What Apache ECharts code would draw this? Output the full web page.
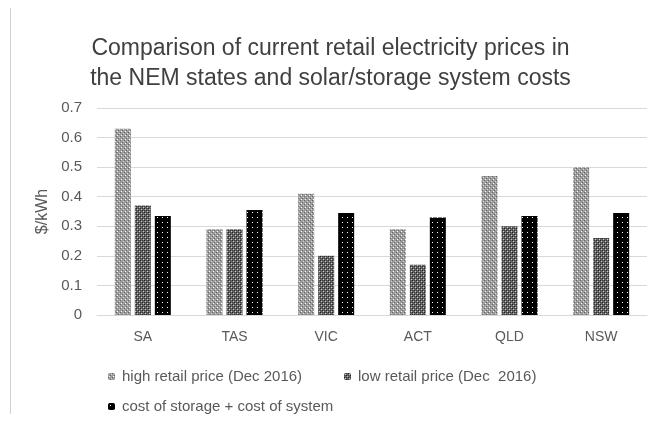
<!DOCTYPE html>
<html><head><meta charset="utf-8">
<script src="https://cdn.jsdelivr.net/npm/echarts@6/dist/echarts.min.js"></script>
<style>html,body{margin:0;padding:0;background:#fff}#c{width:661px;height:424px}</style>
</head><body><div id="c"></div>
<script>
const categories = ['SA', 'TAS', 'VIC', 'ACT', 'QLD', 'NSW'];
const highRetail = [0.63, 0.29, 0.41, 0.29, 0.47, 0.50];
const lowRetail = [0.37, 0.29, 0.20, 0.17, 0.30, 0.26];
const storageCost = [0.335, 0.355, 0.345, 0.33, 0.335, 0.345];
const seriesNames = ['high retail price (Dec 2016)', 'low retail price (Dec  2016)', 'cost of storage + cost of system'];
const yTicks = [0, 0.1, 0.2, 0.3, 0.4, 0.5, 0.6, 0.7];

function makePattern(size, bg, dots) {
  const c = document.createElement('canvas');
  c.width = size; c.height = size;
  const g = c.getContext('2d');
  g.fillStyle = bg; g.fillRect(0, 0, size, size);
  dots.forEach(d => { g.fillStyle = d[2]; g.fillRect(d[0], d[1], 1, 1); });
  return { image: c, repeat: 'repeat' };
}
const patHigh = makePattern(4, '#9c9c9c', [[0,0,'#666'],[2,2,'#666'],[1,3,'#ffffff'],[3,1,'#d8d8d8']]);
const patLow = makePattern(4, '#666', [[0,0,'#222'],[2,2,'#222'],[1,1,'#c8c8c8'],[3,3,'#c8c8c8'],[0,2,'#3c3c3c'],[2,0,'#3c3c3c']]);
const patCost = makePattern(5, '#000000', [[2,2,'#ffffff']]);

const chart = echarts.init(document.getElementById('c'), null, {renderer: 'canvas'});
const font = 'Liberation Sans';
const legendText = { fontFamily: font, fontSize: 15, color: '#595959', padding: [0, 0, 0, 2] };
chart.setOption({
  backgroundColor: '#fff',
  animation: false,
  title: {
    text: 'Comparison of current retail electricity prices in\nthe NEM states and solar/storage system costs',
    left: 'center', top: 29, padding: [5, 15, 5, 5],
    textStyle: { fontFamily: font, fontSize: 23, fontWeight: 'normal', color: '#404040', lineHeight: 30 }
  },
  graphic: [{ type: 'line', shape: { x1: 10.5, y1: 8, x2: 10.5, y2: 414 }, style: { stroke: '#d0d0d0', lineWidth: 1 } }],
  grid: { left: 97, right: 14, top: 108, bottom: 109 },
  legend: [
    { data: [seriesNames[0]], left: 103, top: 364, itemWidth: 7, itemHeight: 7, itemGap: 0, textStyle: legendText },
    { data: [seriesNames[1]], left: 339, top: 364, itemWidth: 7, itemHeight: 7, itemGap: 0, textStyle: legendText },
    { data: [seriesNames[2]], left: 103, top: 394, itemWidth: 7, itemHeight: 7, itemGap: 0, textStyle: legendText }
  ],
  xAxis: {
    type: 'category', data: categories,
    axisLine: { show: true, lineStyle: { color: '#d9d9d9' } },
    axisTick: { show: false },
    axisLabel: { margin: 15, fontFamily: font, fontSize: 14, color: '#595959' }
  },
  yAxis: {
    type: 'value', min: yTicks[0], max: yTicks[yTicks.length - 1], interval: 0.1,
    name: '$/kWh', nameLocation: 'middle', nameGap: 46, nameRotate: 90,
    nameTextStyle: { fontFamily: font, fontSize: 16, color: '#595959' },
    axisLine: { show: false }, axisTick: { show: false },
    splitLine: { lineStyle: { color: '#d9d9d9', width: 1 } },
    axisLabel: { margin: 15, fontFamily: font, fontSize: 15, color: '#595959',
      formatter: v => v === 0 ? '0' : v.toFixed(1) }
  },
  series: [
    { name: seriesNames[0], type: 'bar', data: highRetail, barWidth: 16, barGap: '25%', itemStyle: { color: patHigh } },
    { name: seriesNames[1], type: 'bar', data: lowRetail, barWidth: 16, barGap: '25%', itemStyle: { color: patLow } },
    { name: seriesNames[2], type: 'bar', data: storageCost, barWidth: 16, barGap: '25%', itemStyle: { color: patCost } }
  ]
});
</script></body></html>
